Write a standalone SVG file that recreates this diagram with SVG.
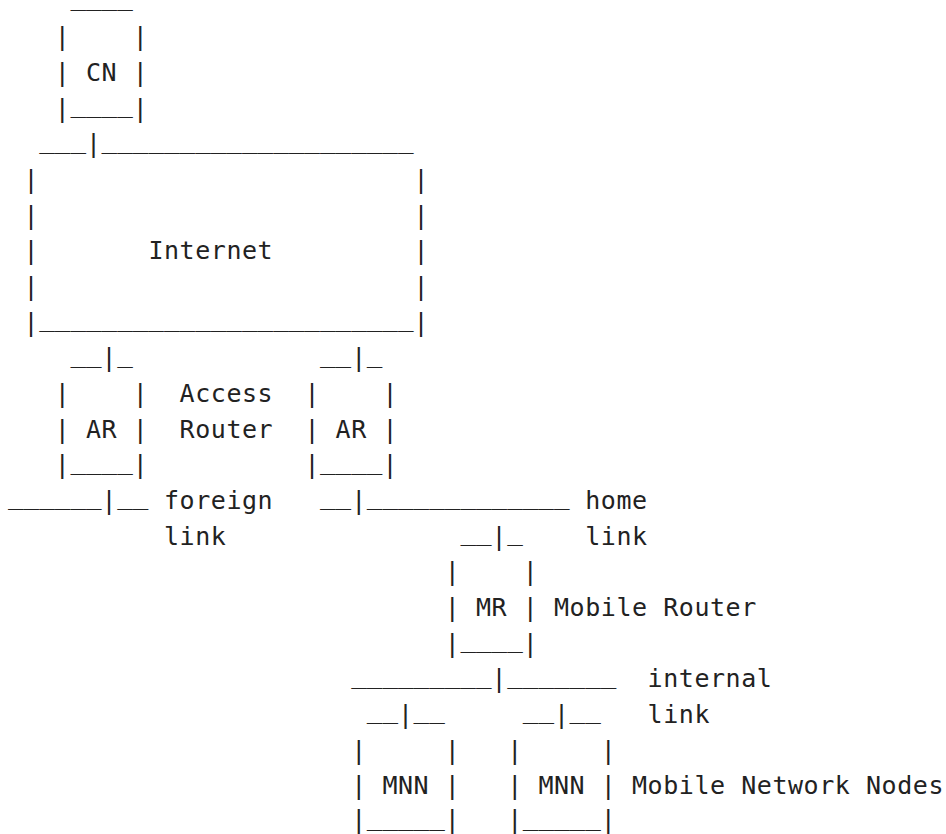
<svg xmlns="http://www.w3.org/2000/svg" width="946" height="834" viewBox="0 0 946 834">
<style>
text{font-family:"DejaVu Sans Mono","Liberation Mono",monospace;fill:#222;white-space:pre}
.t{font-size:25px;letter-spacing:0.55px}
.u{font-size:25.92px}
</style>
<rect width="946" height="834" fill="#fff"/>
<g id="connectors">
<text class="t" x="86" y="152.28">|</text>
<text class="t" x="101.6" y="366.3">|</text>
<text class="t" x="351.2" y="366.3">|</text>
<text class="t" x="101.6" y="508.98">|</text>
<text class="t" x="351.2" y="508.98">|</text>
<text class="t" x="491.6" y="544.65">|</text>
<text class="t" x="491.6" y="687.33">|</text>
<text class="t" x="398" y="723">|</text>
<text class="t" x="554" y="723">|</text>
</g>
<g id="cn">
<text class="u" x="70.4" y="5">____</text>
<text class="t" x="54.8" y="45.27">|</text>
<text class="t" x="132.8" y="45.27">|</text>
<text class="t" x="54.8" y="80.94">| CN |</text>
<text class="t" x="54.8" y="116.61">|</text>
<text class="u" x="70.4" y="112.01">____</text>
<text class="t" x="132.8" y="116.61">|</text>
</g>
<g id="internet">
<text class="u" x="39.2" y="147.68">___</text>
<text class="u" x="101.6" y="147.68">____________________</text>
<text class="t" x="23.6" y="187.95">|</text>
<text class="t" x="413.6" y="187.95">|</text>
<text class="t" x="23.6" y="223.62">|</text>
<text class="t" x="413.6" y="223.62">|</text>
<text class="t" x="23.6" y="259.29">|</text>
<text class="t" x="148.4" y="259.29">Internet</text>
<text class="t" x="413.6" y="259.29">|</text>
<text class="t" x="23.6" y="294.96">|</text>
<text class="t" x="413.6" y="294.96">|</text>
<text class="t" x="23.6" y="330.63">|</text>
<text class="u" x="39.2" y="326.03">________________________</text>
<text class="t" x="413.6" y="330.63">|</text>
</g>
<g id="ar-foreign">
<text class="u" x="70.4" y="361.7">__</text>
<text class="u" x="117.2" y="361.7">_</text>
<text class="t" x="54.8" y="401.97">|</text>
<text class="t" x="132.8" y="401.97">|</text>
<text class="t" x="54.8" y="437.64">| AR |</text>
<text class="t" x="54.8" y="473.31">|</text>
<text class="u" x="70.4" y="468.71">____</text>
<text class="t" x="132.8" y="473.31">|</text>
</g>
<g id="access-router-label">
<text class="t" x="179.6" y="401.97">Access</text>
<text class="t" x="179.6" y="437.64">Router</text>
</g>
<g id="ar-home">
<text class="u" x="320" y="361.7">__</text>
<text class="u" x="366.8" y="361.7">_</text>
<text class="t" x="304.4" y="401.97">|</text>
<text class="t" x="382.4" y="401.97">|</text>
<text class="t" x="304.4" y="437.64">| AR |</text>
<text class="t" x="304.4" y="473.31">|</text>
<text class="u" x="320" y="468.71">____</text>
<text class="t" x="382.4" y="473.31">|</text>
</g>
<g id="foreign-link">
<text class="u" x="8" y="504.38">______</text>
<text class="u" x="117.2" y="504.38">__</text>
<text class="t" x="164" y="508.98">foreign</text>
<text class="t" x="164" y="544.65">link</text>
</g>
<g id="home-link">
<text class="u" x="320" y="504.38">__</text>
<text class="u" x="366.8" y="504.38">_____________</text>
<text class="t" x="585.2" y="508.98">home</text>
<text class="t" x="585.2" y="544.65">link</text>
</g>
<g id="mr">
<text class="u" x="460.4" y="540.05">__</text>
<text class="u" x="507.2" y="540.05">_</text>
<text class="t" x="444.8" y="580.32">|</text>
<text class="t" x="522.8" y="580.32">|</text>
<text class="t" x="444.8" y="615.99">| MR |</text>
<text class="t" x="554" y="615.99">Mobile Router</text>
<text class="t" x="444.8" y="651.66">|</text>
<text class="u" x="460.4" y="647.06">____</text>
<text class="t" x="522.8" y="651.66">|</text>
</g>
<g id="internal-link">
<text class="u" x="351.2" y="682.73">_________</text>
<text class="u" x="507.2" y="682.73">_______</text>
<text class="t" x="647.6" y="687.33">internal</text>
<text class="t" x="647.6" y="723">link</text>
</g>
<g id="mnn1">
<text class="u" x="366.8" y="718.4">__</text>
<text class="u" x="413.6" y="718.4">__</text>
<text class="t" x="351.2" y="758.67">|</text>
<text class="t" x="444.8" y="758.67">|</text>
<text class="t" x="351.2" y="794.34">| MNN |</text>
<text class="t" x="351.2" y="827.6">|</text>
<text class="u" x="366.8" y="824.6">_____</text>
<text class="t" x="444.8" y="827.6">|</text>
</g>
<g id="mnn2">
<text class="u" x="522.8" y="718.4">__</text>
<text class="u" x="569.6" y="718.4">__</text>
<text class="t" x="507.2" y="758.67">|</text>
<text class="t" x="600.8" y="758.67">|</text>
<text class="t" x="507.2" y="794.34">| MNN |</text>
<text class="t" x="632" y="794.34">Mobile Network Nodes</text>
<text class="t" x="507.2" y="827.6">|</text>
<text class="u" x="522.8" y="824.6">_____</text>
<text class="t" x="600.8" y="827.6">|</text>
</g>
</svg>
